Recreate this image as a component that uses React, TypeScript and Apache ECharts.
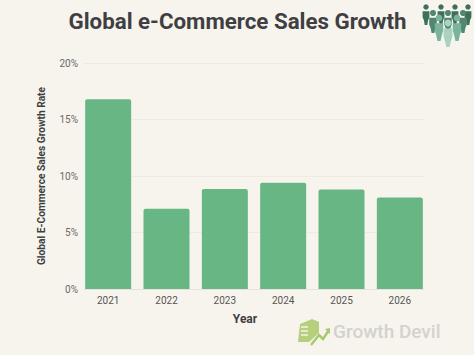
import React, { useEffect, useRef } from "react";
import * as echarts from "echarts";

const years = ["2021", "2022", "2023", "2024", "2025", "2026"];
const growth = [16.8, 7.1, 8.85, 9.4, 8.8, 8.1];
const title = "Global e-Commerce Sales Growth";
const yName = "Global E-Commerce Sales Growth Rate";
const xName = "Year";
const FONT = "Roboto";

// [cx, headY, bottomY, scale, colour]
const people: [number, number, number, number, string][] = [
  [426, 7, 25, 0.85, "#3f6f5c"],
  [441, 7, 25, 0.85, "#3f6f5c"],
  [455, 7, 25, 0.85, "#3f6f5c"],
  [468, 7, 25, 0.85, "#3f6f5c"],
  [433, 13, 33, 0.95, "#4f8770"],
  [448, 13, 33, 0.95, "#4f8770"],
  [463, 13, 33, 0.95, "#4f8770"],
  [439, 18, 41, 1.05, "#7bb39b"],
  [457, 18, 41, 1.05, "#7bb39b"],
  [448, 23, 47, 1.1, "#a9d3c1"],
];

function person([cx, hy, by, s, c]: (typeof people)[number]) {
  return [
    {
      type: "polygon",
      silent: true,
      shape: {
        points: [
          [cx - 4 * s, hy + 5 * s],
          [cx + 4 * s, hy + 5 * s],
          [cx + 4 * s, hy + 12 * s],
          [cx + 2.5 * s, by - 5],
          [cx + 1.5 * s, by],
          [cx - 1.5 * s, by],
          [cx - 2.5 * s, by - 5],
          [cx - 4 * s, hy + 12 * s],
        ],
      },
      style: { fill: c },
    },
    { type: "circle", silent: true, shape: { cx, cy: hy, r: 3.2 * s }, style: { fill: c } },
  ];
}

export default function App() {
  const ref = useRef<HTMLDivElement>(null);
  useEffect(() => {
    const chart = echarts.init(ref.current!, null, { renderer: "svg" });
    chart.setOption({
      animation: false,
      backgroundColor: "#f7f4ed",
      title: {
        text: title,
        left: 232.5,
        top: 5,
        textAlign: "center",
        textStyle: { fontFamily: FONT, fontSize: 22.3, fontWeight: 700, color: "#3f3f43" },
      },
      grid: [
        { left: 84, right: 50, top: 63, bottom: 66 },
        { left: 79, right: 45, top: 63, bottom: 66 },
      ],
      xAxis: [
        {
          gridIndex: 0,
          type: "category",
          data: years,
          axisLabel: { show: false },
          axisTick: { show: false },
          axisLine: { lineStyle: { color: "#e6e3da" } },
          name: xName,
          nameLocation: "middle",
          nameGap: 24,
          nameTextStyle: { fontFamily: FONT, fontSize: 12, fontWeight: 700, color: "#3f3f43", padding: [0, 18, 0, 0] },
        },
        {
          gridIndex: 1,
          type: "category",
          data: years,
          axisLine: { show: false },
          axisTick: { show: false },
          axisLabel: { fontFamily: FONT, fontSize: 10, color: "#555555", margin: 6 },
        },
      ],
      yAxis: [
        {
          gridIndex: 0,
          type: "value",
          min: 0,
          max: 20,
          interval: 5,
          name: yName,
          nameLocation: "middle",
          nameGap: 38,
          nameTextStyle: { fontFamily: FONT, fontSize: 10.2, fontWeight: 700, color: "#3f3f43" },
          axisLine: { show: false },
          axisTick: { show: false },
          axisLabel: { fontFamily: FONT, fontSize: 10, color: "#6a6a6a", margin: 6, formatter: "{value}%" },
          splitLine: { lineStyle: { color: "#eeebe3", width: 1 } },
        },
        {
          gridIndex: 1,
          type: "value",
          min: 0,
          max: 20,
          interval: 5,
          axisLine: { show: false },
          axisTick: { show: false },
          axisLabel: { show: false },
          splitLine: { show: false },
        },
      ],
      series: [
        {
          type: "bar",
          xAxisIndex: 1,
          yAxisIndex: 1,
          data: growth,
          barWidth: 46,
          silent: true,
          itemStyle: { color: "#69b685", borderRadius: [2, 2, 0, 0] },
        },
      ],
      graphic: [
        ...people.flatMap(person),
        {
          type: "polygon",
          silent: true,
          shape: { points: [[300, 324], [312, 319], [319, 322], [319, 333], [309, 342], [298, 342]] },
          style: { fill: "#b5cf7d" },
        },
        ...[327, 331, 335].map((y) => ({
          type: "line",
          silent: true,
          shape: { x1: 301, y1: y, x2: 308, y2: y },
          style: { stroke: "#f7f4ed", lineWidth: 1.5 },
        })),
        {
          type: "polyline",
          silent: true,
          shape: { points: [[311, 345], [319, 335], [323, 339], [329, 330]] },
          style: { stroke: "#a9c96f", lineWidth: 2.5, fill: "none" },
        },
        {
          type: "polygon",
          silent: true,
          shape: { points: [[325, 329], [330, 328], [330, 334]] },
          style: { fill: "#a9c96f" },
        },
        {
          type: "text",
          silent: true,
          x: 333,
          y: 322,
          style: { text: "Growth Devil", fontFamily: FONT, fontSize: 19, fontWeight: 500, fill: "#d3d2ce" },
        },
      ],
    });
    return () => chart.dispose();
  }, []);
  return <div ref={ref} style={{ width: 474, height: 355, position: "fixed", left: 0, top: 0 }} />;
}
